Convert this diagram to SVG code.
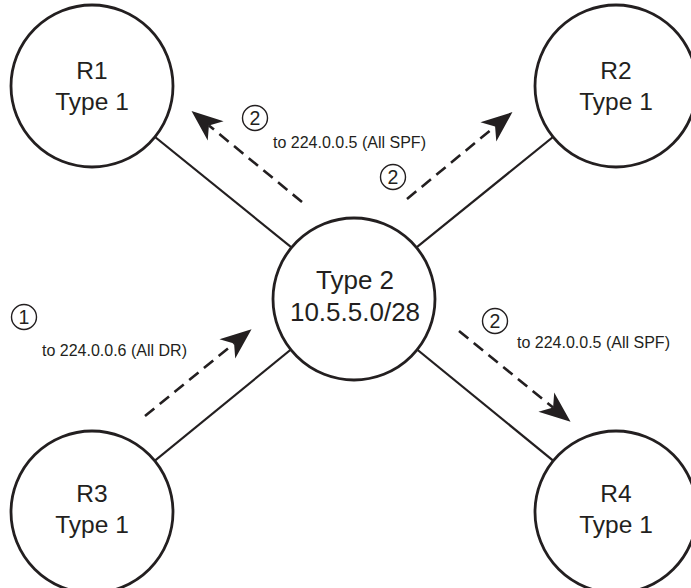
<svg xmlns="http://www.w3.org/2000/svg" width="691" height="588" viewBox="0 0 691 588">
<style>
.node circle{fill:#fff;stroke:#231f20;stroke-width:2.8}
.node text{font-family:"Liberation Sans",Arial,sans-serif;font-size:24.5px;fill:#231f20;text-anchor:middle}
.link{stroke:#231f20;stroke-width:2.2;fill:none}
.flow{stroke:#231f20;stroke-width:2.6;fill:none;stroke-dasharray:12 7;marker-end:url(#ah)}
.lbl{font-family:"Liberation Sans",Arial,sans-serif;font-size:16px;fill:#231f20}
.num circle{fill:none;stroke:#231f20;stroke-width:1.4}
.num text{font-family:"Liberation Sans",Arial,sans-serif;font-size:19.5px;fill:#231f20;text-anchor:middle}
</style>
<defs>
<marker id="ah" markerUnits="userSpaceOnUse" markerWidth="40" markerHeight="30" viewBox="-8 -12 28 24" refX="0" refY="0" orient="auto">
<path d="M18,0 L-7,-10 L0,0 L-7,10 Z" fill="#231f20"/>
</marker>
</defs>
<g id="connectors">
<line class="link" x1="92" y1="86" x2="354" y2="298"/>
<line class="link" x1="616" y1="86" x2="354" y2="298"/>
<line class="link" x1="92" y1="512" x2="354" y2="298"/>
<line class="link" x1="616" y1="512" x2="354" y2="298"/>
<line class="flow" x1="302" y1="202" x2="208.9" y2="125.4"/>
<line class="flow" x1="407" y1="199" x2="495.1" y2="126.4"/>
<line class="flow" x1="145" y1="416" x2="234.1" y2="343.4"/>
<line class="flow" x1="459" y1="331" x2="553.1" y2="407.6"/>
</g>
<g id="R1" class="node">
<circle cx="92" cy="86" r="81"/>
<text x="92" y="79">R1</text>
<text x="92" y="110">Type 1</text>
</g>
<g id="R2" class="node">
<circle cx="616" cy="86" r="81"/>
<text x="616" y="79">R2</text>
<text x="616" y="110">Type 1</text>
</g>
<g id="R3" class="node">
<circle cx="92" cy="512" r="81"/>
<text x="92" y="502">R3</text>
<text x="92" y="533">Type 1</text>
</g>
<g id="R4" class="node">
<circle cx="616" cy="512" r="81"/>
<text x="616" y="502">R4</text>
<text x="616" y="533">Type 1</text>
</g>
<g id="DR" class="node">
<circle cx="354" cy="299" r="81"/>
<text x="355" y="289" style="font-size:26px">Type 2</text>
<text x="355" y="321" style="font-size:26px">10.5.5.0/28</text>
</g>
<g id="labels">
<g class="num"><circle cx="255" cy="118" r="12.5"/><text x="255" y="125">2</text></g>
<text class="lbl" x="273" y="148">to 224.0.0.5 (All SPF)</text>
<g class="num"><circle cx="393" cy="177" r="12.5"/><text x="393" y="184">2</text></g>
<g class="num"><circle cx="24" cy="317" r="12.5"/><text x="24" y="324">1</text></g>
<text class="lbl" x="42" y="356">to 224.0.0.6 (All DR)</text>
<g class="num"><circle cx="495" cy="321" r="12.5"/><text x="495" y="328">2</text></g>
<text class="lbl" x="517" y="348">to 224.0.0.5 (All SPF)</text>
</g>
</svg>
